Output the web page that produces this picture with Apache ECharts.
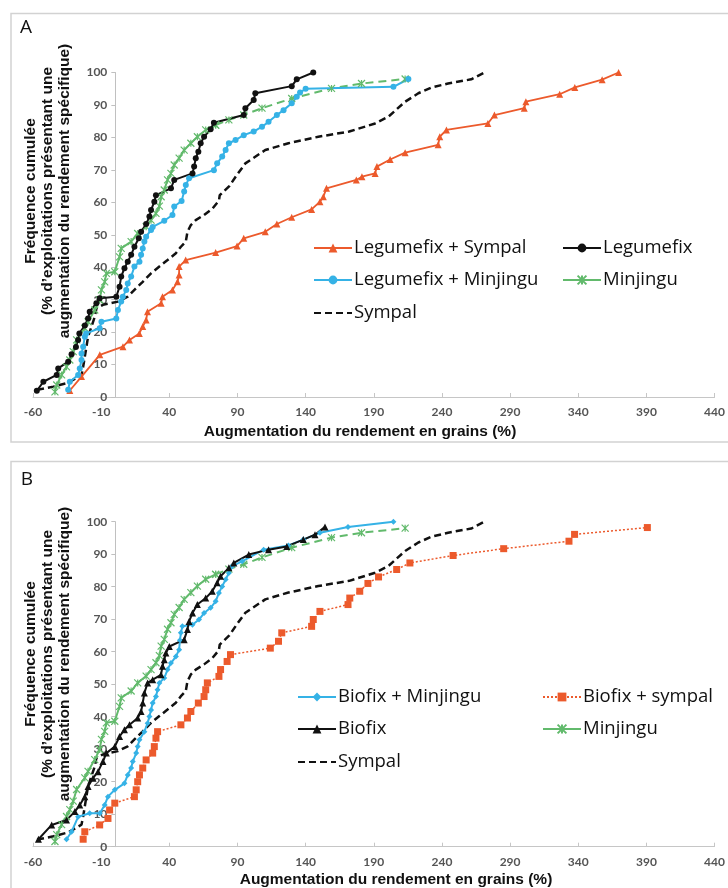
<!DOCTYPE html>
<html>
<head>
<meta charset="utf-8">
<script src="https://cdn.jsdelivr.net/npm/echarts@6/dist/echarts.min.js"></script>
<style>html,body{margin:0;padding:0;background:#fff}#c{width:728px;height:888px}</style>
</head>
<body>
<div id="c"></div>
<script>
// ---- data ----
const xTicks = [-60, -10, 40, 90, 140, 190, 240, 290, 340, 390, 440];
const xTitle = 'Augmentation du rendement en grains (%)';
const yTitle = 'Fréquence cumulée\n(% d\u2019exploitations présentant une\naugmentation du rendement spécifique)';

const legumefixSympal = [[-33,2],[-24.4,6.3],[-11,13],[6,15.5],[10.8,17.6],[18,19.6],[20.5,21.7],[23,23.7],[24,26.3],[34,28.9],[35,30.9],[42.3,33],[46,35.5],[47.2,37.6],[47.2,40.2],[52,42.2],[74,44.5],[89.7,46.5],[94.6,48.9],[110.4,50.9],[118.9,53.3],[129.8,55.4],[144.4,57.8],[150.5,60.2],[153,61.7],[155.3,64.3],[177.2,66.9],[181.3,67.9],[191,68.9],[192.3,71],[202,73.2],[213,75.3],[237.2,77.7],[238.4,80.2],[243.3,82.3],[273.7,84.3],[278.5,86.9],[300.4,89],[301.6,91],[326.4,93.3],[337.5,95.4],[357.5,97.8],[369.6,100]];
const legumefix = [[-57.2,1.9],[-52.4,4.7],[-42.6,6.8],[-41.5,8.8],[-34.2,10.9],[-31.7,13.2],[-28.5,15.4],[-26.9,17.6],[-26,19.6],[-22,22],[-19.6,24.2],[-18.4,26.3],[-13.5,28.9],[-11.1,30.4],[1.1,30.9],[3.5,34],[4.7,37.1],[7.1,39.7],[9.5,41.7],[12,43.8],[14.4,46.3],[17.6,48.9],[19.3,50.9],[23,53.3],[25.4,55.6],[26.6,57.6],[29,60.2],[30.2,62.2],[41.2,64.3],[43.6,66.9],[57,68.9],[58.2,71],[59.4,73.6],[61.3,75.6],[63,78.2],[65.5,80.2],[70.3,82.5],[72.7,84.5],[94.6,86.9],[95.8,89],[101.9,91.5],[103.1,93.6],[129.8,95.8],[133.5,97.9],[145.6,100]];
const legumefixMinjingu = [[-34.2,2.2],[-33,4.7],[-26.9,6.8],[-25.7,8.8],[-24.4,11.4],[-24.4,13.4],[-23.2,15.5],[-22,18.6],[-21,19.6],[-11.1,21.2],[-9.8,23.2],[1.1,24.2],[2.3,26.8],[4.7,29.4],[5.9,30.9],[8.4,33],[9.5,35],[12,37.1],[14.4,40.2],[18.1,41.7],[19.3,43.8],[20.5,45.8],[21.7,47.9],[23,49.4],[26.6,51.5],[27.8,52.4],[36.3,54.3],[42.3,56.1],[43.6,58.7],[49,60.4],[50.9,63.3],[52.1,65.3],[54.5,67.4],[72.7,69.9],[75.1,72],[78.8,74.1],[81.3,76.1],[83.7,78.2],[88.6,79.2],[94.6,80.7],[101.9,81.8],[108,83.3],[112.8,84.8],[118.9,86.9],[123.8,88.4],[129.8,90.5],[133.5,92.5],[135.9,93.8],[140,95],[204.4,95.6],[215.4,98]];
const minjingu = [[-43.9,1.6],[-42.6,3.7],[-39,6.8],[-35.4,9.3],[-33,11.4],[-30.5,14],[-28,17.6],[-22,21.2],[-19.6,23.2],[-14.7,26.8],[-11.1,29.9],[-9.8,33],[-7.4,35.5],[-6.2,38.1],[0,38.6],[3.5,43.2],[4.7,45.8],[12,47.9],[16.8,50.4],[23,52.5],[26.6,54.5],[30.2,56.6],[32.7,58.8],[34,61.7],[36.3,63.8],[38.7,66.9],[41.2,68.9],[43.6,71.5],[47.2,73.6],[50.9,76.1],[55.8,78.2],[60.6,80.2],[66.7,82.3],[74,83.8],[83.7,85.4],[94.6,86.9],[108,89],[129.8,92],[159,95.1],[181,96.6],[213,98]];
const sympal = [[-57,2.2],[-45,3.2],[-34.2,4.4],[-24.4,6.8],[-23.2,9.3],[-22,12.4],[-20.8,15.5],[-19.6,18.6],[-17.1,21.7],[-14.7,24.7],[-13.5,27.3],[-8.7,28.4],[2.3,29.4],[9.5,30.9],[14.4,33],[20.5,35.5],[26.6,38.1],[32.7,40.2],[38.7,42.2],[44.8,44.3],[48.5,46.3],[52.1,47.9],[53.3,50.9],[55.8,53],[59.4,54.5],[65.5,56.1],[71.5,58],[76.4,60.5],[77,62.2],[84,65],[89.7,68.5],[95.8,72],[110.4,76.1],[127.4,78.2],[149.3,80.2],[172,81.8],[191,84.3],[200.8,86.4],[213,91],[222.7,93.6],[232.4,95.4],[244.5,96.6],[261.5,97.9],[271.2,100]];
const biofixMinjingu = [[-35.4,2.3],[-31.7,4.6],[-26.9,9.2],[-18.4,10.3],[-11,10.3],[-7.4,12.8],[-5,15.4],[0,17.5],[7.1,19.5],[9.5,22.1],[12,24.2],[13.2,26.2],[15.7,28.8],[16.8,30.8],[18.1,32.9],[21.7,35.4],[24.1,38],[25.4,40.1],[26.6,42.1],[27.8,44.2],[30.2,46.2],[31.4,48.3],[32.7,50.4],[36.3,51.9],[38.7,54.5],[41.2,56.5],[44.8,58.5],[47.2,60.6],[47.8,63.5],[48.5,65.8],[49.6,67.8],[57,68.3],[61.8,69.9],[65.5,71.9],[70.3,73.5],[74,75.5],[76.4,78.1],[78.8,80.1],[81.3,82.2],[83.7,84.2],[86.1,86.3],[93.4,87.8],[109.2,91.4],[127.4,92.7],[138.3,94.5],[150.5,96.6],[171.1,98.4],[204.4,100]];
const biofix = [[-56,2.3],[-46.3,6.7],[-35.4,8.2],[-29.3,10.8],[-25.7,12.8],[-22,15.4],[-19.6,18.5],[-16,21.1],[-12.3,23.1],[-8.7,26.2],[-6.2,28.8],[0,30.8],[3.5,33.9],[7.1,36],[10.8,37.5],[16.8,39.6],[19.3,41.6],[20.5,44.2],[21.7,47.3],[24.1,50.4],[27.8,51.4],[33.9,52.9],[35,55.5],[36.3,57.5],[37.5,59.6],[40,61.6],[50.9,63.7],[53.3,66.8],[54.5,69.3],[57,71.9],[60.6,74.5],[66.7,76.5],[71.5,78.6],[75.1,81.2],[77.6,83.2],[83.7,85.8],[87.3,87.3],[98.3,89.9],[112.8,91.4],[126.2,92.4],[138.3,94.5],[146.9,96],[154.2,98.4]];
const biofixSympal = [[-23.2,2.3],[-22,4.6],[-11.1,6.7],[-5,8.7],[-3.8,11.3],[0,13.4],[14.4,15.4],[15.7,17.5],[16.8,20],[18.1,22.1],[20.5,24.2],[23,26.7],[27.8,28.8],[29,30.8],[30.2,33.4],[31.4,35.4],[48.5,37.5],[53.3,39.6],[55.8,41.6],[61.3,44.2],[65.5,46.2],[66.7,48.3],[67.9,50.4],[76.4,52.4],[77.6,54.5],[82.4,57],[84.9,59.1],[114.1,61.1],[120.1,63.2],[122.5,65.8],[144.4,67.8],[145.6,69.9],[150.5,72.4],[171.1,74.5],[172.4,76.5],[179.7,78.6],[185.7,81],[193.5,83],[206.8,85.3],[216.5,87.3],[248.2,89.6],[285.3,91.7],[333.2,94],[337.3,96.1],[390.7,98.2]];

// ---- styling ----
const C = {orange:'#EC5A2C', black:'#111111', blue:'#35B2E6', green:'#62BA6C'};
const STAR = 'path://M0,0L10,10M0,10L10,0M5,0L5,10';
const dashFrom = minjingu.findIndex(p => p[0] >= 74);
const GRID_LEFT = 33, GRID_W = 686;
// y axis sits at x = 0 of the value x axis
const Y_OFFSET = -GRID_W * (0 - (-60)) / (440 - (-60));

function ser(name, data, gi, color, symbol, size, ltype, width, z) {
  return {
    type:'line', name, data, xAxisIndex:gi, yAxisIndex:gi,
    symbol: symbol || 'none', symbolSize:size, showSymbol: !!symbol,
    lineStyle:{color, width, type:ltype||'solid'},
    itemStyle: symbol === STAR ? {color, borderColor:color, borderWidth:1.2} : {color},
    z: z || 2, animation:false, emphasis:{disabled:true}
  };
}
function mkX(i) {
  return {type:'value', gridIndex:i, min:-60, max:440,
    splitLine:{show:false},
    axisLine:{show:true, onZero:false, lineStyle:{color:'#c6c6c6', width:1}},
    axisTick:{show:true, inside:true, length:4, customValues:xTicks, lineStyle:{color:'#c6c6c6'}},
    axisLabel:{customValues:xTicks, margin:9, fontSize:12, color:'#555', fontFamily:'Lato', fontWeight:'bold'}};
}
function mkY(i) {
  return {type:'value', gridIndex:i, min:0, max:100, interval:10, offset:Y_OFFSET,
    splitLine:{show:false},
    axisLine:{show:true, onZero:false, lineStyle:{color:'#c0c0c0', width:1}},
    axisTick:{show:true, length:4, lineStyle:{color:'#c0c0c0'}},
    axisLabel:{margin:8, fontSize:12, color:'#555', fontFamily:'Lato', fontWeight:'bold'}};
}
function leg(name, left, cy, noSymbol) {
  const item = noSymbol ? {name, itemStyle:{color:'rgba(0,0,0,0)', borderWidth:0, opacity:0}} : name;
  return {data:[item], left, top: cy - 12, itemWidth:38, itemHeight:11, itemGap:0,
    selectedMode:false, padding:0,
    textStyle:{fontSize:18.5, lineHeight:24, fontFamily:'Open Sans', color:'#111', padding:[0,0,0,-3]}};
}
function txt(x, y, text, font, rot) {
  return {type:'text', x, y, rotation: rot || 0, silent:true, z:10,
    style:{text, font, fill:'#111', align:'center', verticalAlign:'middle',
      textAlign:'center', textVerticalAlign:'middle', lineHeight:17}};
}

const option = {
  animation:false,
  grid:[{left:GRID_LEFT, top:72.5, width:GRID_W, height:324.5}, {left:GRID_LEFT, top:521.7, width:GRID_W, height:325}],
  xAxis:[mkX(0), mkX(1)],
  yAxis:[mkY(0), mkY(1)],
  legend:[
    leg('Legumefix + Sympal', 313, 248), leg('Legumefix', 562, 248),
    leg('Legumefix + Minjingu', 313, 280), leg('Minjingu', 562, 280),
    leg('Sympal', 313, 313, true),
    leg('Biofix + Minjingu', 297, 697), leg('Biofix + sympal', 542, 697),
    leg('Biofix', 297, 729), leg('Minjingu', 542, 729),
    leg('Sympal', 297, 762, true)
  ],
  series:[
    ser('Sympal', sympal, 0, C.black, null, 0, [7,4], 2.5, 1),
    ser('Legumefix + Sympal', legumefixSympal, 0, C.orange, 'triangle', 7, 'solid', 1.8),
    ser('Minjingu', minjingu.slice(0, dashFrom + 1), 0, C.green, STAR, 7, 'solid', 2),
    ser('Minjingu ', minjingu.slice(dashFrom), 0, C.green, STAR, 7, [8,5], 2),
    ser('Legumefix + Minjingu', legumefixMinjingu, 0, C.blue, 'circle', 6, 'solid', 2),
    ser('Legumefix', legumefix, 0, C.black, 'circle', 6, 'solid', 2),

    ser('Sympal', sympal, 1, C.black, null, 0, [7,4], 2.5, 1),
    ser('Biofix + sympal', biofixSympal, 1, C.orange, 'rect', 7, [2,2], 1.5),
    ser('Minjingu', minjingu.slice(0, dashFrom + 1), 1, C.green, STAR, 7, 'solid', 2),
    ser('Minjingu ', minjingu.slice(dashFrom), 1, C.green, STAR, 7, [8,5], 2),
    ser('Biofix + Minjingu', biofixMinjingu, 1, C.blue, 'diamond', 6, 'solid', 2),
    ser('Biofix', biofix, 1, C.black, 'triangle', 7, 'solid', 2)
  ],
  graphic:[
    {type:'rect', silent:true, z:-1, shape:{x:11, y:13.5, width:740, height:428.5}, style:{fill:'none', stroke:'#d2d2d2', lineWidth:1.5}},
    {type:'rect', silent:true, z:-1, shape:{x:11, y:461.5, width:740, height:440}, style:{fill:'none', stroke:'#d2d2d2', lineWidth:1.5}},
    txt(26, 28, 'A', '19px "Open Sans"'),
    txt(27, 480, 'B', '19px "Open Sans"'),
    txt(48, 191, yTitle, 'bold 15.5px "Liberation Sans"', Math.PI/2),
    txt(48, 654, yTitle, 'bold 15.5px "Liberation Sans"', Math.PI/2),
    txt(360, 432, xTitle, 'bold 15.5px "Liberation Sans"'),
    txt(396, 880, xTitle, 'bold 15.5px "Liberation Sans"')
  ]
};
const chart = echarts.init(document.getElementById('c'), null, {renderer:'canvas'});
chart.setOption(option);
</script>
</body>
</html>
